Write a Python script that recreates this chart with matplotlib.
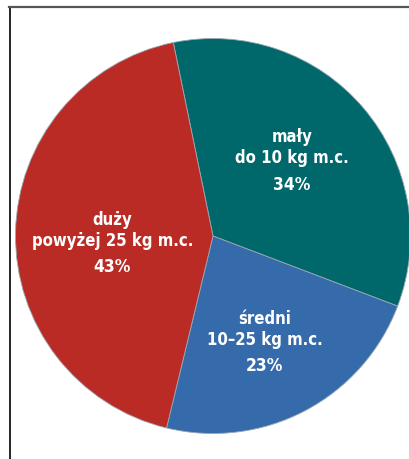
import numpy as np
import matplotlib
matplotlib.use("Agg")
import matplotlib.pyplot as plt
from matplotlib.lines import Line2D

# dane
names = ["mały\ndo 10 kg m.c.", "średni\n10–25 kg m.c.", "duży\npowyżej 25 kg m.c."]
shares = [34, 23, 43]
colors = ["#00686B", "#356BAB", "#BA2B26"]

plt.rcParams['font.family'] = ['DejaVu Sans']

W, H = 409, 460
fig = plt.figure(figsize=(W / 100, H / 100), dpi=100)
ax = fig.add_axes([0, 0, 1, 1])

# środek koła i promień w pikselach
cx, cy, R = 213, 237, 197.5

wedges, _ = ax.pie(shares, colors=colors, startangle=101.6, counterclock=False,
                   radius=1.0, wedgeprops=dict(linewidth=0.6, edgecolor="#9aa7b0"))

ax.set_xlim(-cx / R, (W - cx) / R)
ax.set_ylim(-(H - cy) / R, cy / R)
ax.set_aspect('auto')
ax.axis('off')

# etykiety
label_r = [0.56, 0.59, 0.51]
label_shift = [4, -1.5, 4]
for w, name, val, r, sh in zip(wedges, names, shares, label_r, label_shift):
    ang = np.deg2rad((w.theta1 + w.theta2) / 2 + sh)
    x, y = r * np.cos(ang), r * np.sin(ang)
    ax.annotate(name, (x, y), xytext=(0, 12), textcoords='offset pixels',
                ha='center', va='center', color='white', fontsize=12,
                fontweight='bold', fontstretch='condensed', linespacing=1.25)
    ax.annotate(f"{val}%", (x, y), xytext=(0, -25), textcoords='offset pixels',
                ha='center', va='center', color='white', fontsize=12.5,
                fontweight='bold', fontstretch='condensed')

# ramka
fig.add_artist(Line2D([9.5 / W, 9.5 / W], [0, 1 - 8 / H], transform=fig.transFigure,
                      color='black', linewidth=1.2))
fig.add_artist(Line2D([9 / W, 1], [1 - 8 / H, 1 - 8 / H], transform=fig.transFigure,
                      color='#555555', linewidth=1.6))

fig.savefig("out.png", dpi=100)
